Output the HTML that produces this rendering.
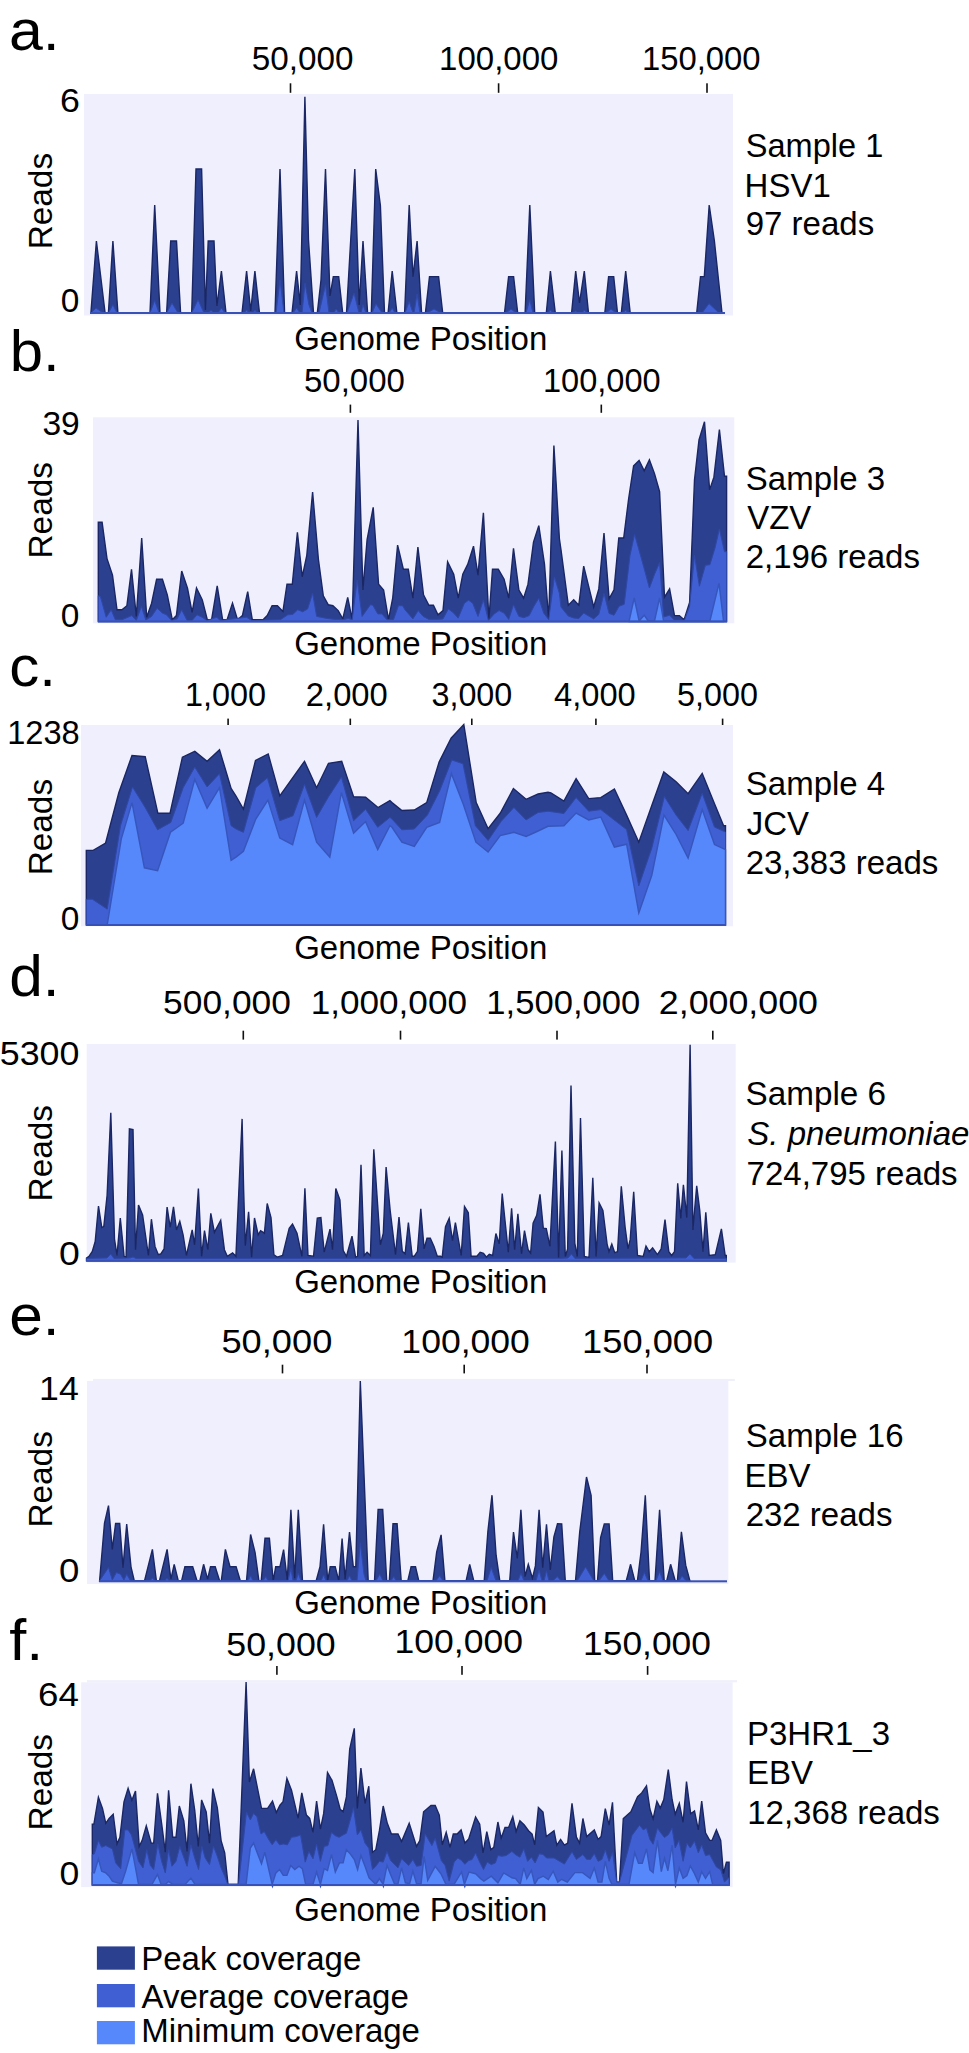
<!DOCTYPE html><html><head><meta charset="utf-8"><title>Coverage</title><style>html,body{margin:0;padding:0;background:#fff;width:969px;height:2053px;overflow:hidden}svg{display:block}text{font-family:"Liberation Sans",sans-serif;fill:#000}</style></head><body>
<svg width="969" height="2053" viewBox="0 0 969 2053">
<rect x="0" y="0" width="969" height="2053" fill="#fff"/>
<rect x="84.0" y="94.0" width="649.0" height="221.5" fill="#efeffd"/>
<path d="M90.9,313.0 L90.9,313.0 L96.4,241.0 L105.1,313.0 L108.4,313.0 L112.9,241.0 L117.9,313.0 L150.0,313.0 L154.7,205.0 L160.0,313.0 L166.6,313.0 L170.7,241.0 L176.5,241.0 L180.6,313.0 L191.7,313.0 L196.0,169.0 L201.6,169.0 L205.4,310.0 L208.2,241.0 L214.0,241.0 L216.9,306.0 L221.4,271.0 L226.0,313.0 L242.0,313.0 L246.6,271.0 L250.7,311.0 L254.9,271.0 L259.5,313.0 L275.0,313.0 L280.0,169.0 L284.6,313.0 L292.0,313.0 L296.6,271.0 L300.3,305.0 L304.9,96.8 L308.5,240.0 L313.5,313.0 L317.3,313.0 L321.0,280.0 L325.5,169.0 L330.0,296.0 L333.3,276.6 L338.7,276.6 L342.7,313.0 L346.5,313.0 L354.8,169.0 L359.2,305.0 L363.0,241.0 L367.6,313.0 L371.3,313.0 L375.7,169.0 L380.4,205.6 L384.5,313.0 L388.1,313.0 L392.2,271.0 L396.9,313.0 L404.6,313.0 L409.2,205.0 L413.0,276.6 L417.1,241.0 L421.6,313.0 L425.4,313.0 L429.5,276.6 L438.6,276.6 L442.7,313.0 L504.5,313.0 L508.6,276.6 L513.6,276.6 L517.7,313.0 L525.1,313.0 L529.8,205.0 L534.7,313.0 L546.3,313.0 L550.4,271.0 L555.3,313.0 L571.6,313.0 L575.7,271.0 L579.5,303.0 L584.3,271.0 L588.5,313.0 L604.8,313.0 L608.6,276.6 L613.7,276.6 L617.5,313.0 L621.3,313.0 L625.7,271.0 L630.2,313.0 L696.7,313.0 L700.5,276.6 L704.3,276.6 L709.2,205.0 L714.4,241.0 L722.0,313.0 L722.0,313.0 Z" fill="#2b4190" stroke="#1a2764" stroke-width="1.4"/>
<path d="M90.9,313.0 L90.9,313.0 L96.0,308.0 L103.0,313.0 L108.4,313.0 L112.9,304.7 L117.0,313.0 L150.0,313.0 L154.7,300.5 L159.0,313.0 L166.6,313.0 L172.0,303.0 L178.0,313.0 L191.7,313.0 L198.0,299.7 L204.0,313.0 L208.0,313.0 L211.0,310.4 L214.0,313.0 L218.0,313.0 L221.4,308.0 L225.0,313.0 L244.0,313.0 L246.6,310.0 L249.0,313.0 L253.0,313.0 L254.9,310.0 L257.0,313.0 L276.0,313.0 L280.0,280.0 L284.0,313.0 L293.0,313.0 L296.6,308.0 L300.0,313.0 L302.0,313.0 L305.0,283.0 L309.0,305.0 L312.0,313.0 L319.0,313.0 L325.5,284.8 L329.0,313.0 L334.0,313.0 L336.0,309.0 L339.0,313.0 L347.0,313.0 L354.0,293.0 L359.0,313.0 L361.0,313.0 L363.0,304.7 L366.0,313.0 L372.0,313.0 L376.0,303.8 L382.0,313.0 L389.0,313.0 L392.2,308.0 L395.0,313.0 L405.0,313.0 L409.2,301.4 L413.0,313.0 L414.0,313.0 L417.1,294.0 L420.0,313.0 L427.0,313.0 L434.0,309.0 L441.0,313.0 L506.0,313.0 L511.0,309.0 L516.0,313.0 L526.0,313.0 L529.8,299.7 L533.0,313.0 L548.0,313.0 L550.4,310.0 L553.0,313.0 L573.0,313.0 L575.7,311.0 L578.0,313.0 L582.0,313.0 L584.3,310.0 L587.0,313.0 L606.0,313.0 L611.0,309.0 L616.0,313.0 L623.0,313.0 L625.7,310.0 L628.0,313.0 L702.0,313.0 L709.0,303.6 L719.0,313.0 L719.0,313.0 Z" fill="#3f5fd2" stroke="#2f48a8" stroke-width="1"/>
<rect x="90.0" y="312.0" width="635.0" height="2" fill="#3751b6"/>
<rect x="289.7" y="83.3" width="1.6" height="9.5" fill="#111"/>
<rect x="497.8" y="83.3" width="1.6" height="9.5" fill="#111"/>
<rect x="706.2" y="83.3" width="1.6" height="9.5" fill="#111"/>
<rect x="93.0" y="417.3" width="641.3" height="206.0" fill="#efeffd"/>
<path d="M98.3,621.5 L98.3,621.0 L98.3,522.3 L102.1,522.3 L107.0,558.6 L112.5,575.1 L117.0,609.8 L121.9,609.8 L126.9,605.7 L131.5,569.3 L136.3,616.4 L141.7,538.0 L146.7,617.2 L151.6,603.2 L156.6,579.3 L162.4,579.3 L167.3,594.9 L172.3,619.7 L176.4,615.6 L181.7,571.0 L187.5,588.3 L192.1,612.3 L196.5,588.0 L202.3,599.9 L207.3,619.7 L211.6,619.7 L217.2,585.9 L222.6,619.7 L227.1,619.7 L232.5,603.2 L237.5,619.7 L242.4,615.6 L247.7,591.6 L251.0,612.0 L252.3,619.7 L263.0,619.7 L267.2,615.6 L272.1,605.7 L277.4,605.7 L282.9,611.5 L287.0,584.2 L292.3,584.2 L297.4,532.2 L302.2,576.8 L306.8,555.3 L312.6,492.1 L318.4,559.4 L323.3,595.8 L328.3,604.8 L332.9,605.7 L338.2,610.6 L342.8,618.9 L347.7,597.4 L352.2,619.7 L358.0,419.9 L362.9,590.0 L367.1,539.6 L373.2,507.4 L378.6,584.2 L383.6,590.0 L388.5,619.7 L392.7,598.2 L397.6,545.1 L403.4,569.3 L408.3,569.3 L412.9,598.2 L417.9,547.1 L423.5,594.9 L428.9,605.2 L433.4,605.2 L438.0,614.8 L443.0,610.6 L447.6,561.9 L453.7,574.3 L458.2,598.2 L462.8,574.3 L467.7,564.4 L473.5,546.2 L478.0,575.1 L483.4,512.7 L488.9,619.7 L492.5,569.3 L498.3,569.3 L504.1,579.2 L508.7,598.2 L513.5,548.4 L518.9,590.0 L523.6,598.2 L528.0,584.2 L533.5,542.1 L538.8,525.6 L544.5,564.4 L548.7,619.7 L553.9,445.5 L559.4,538.8 L561.0,549.8 L568.3,605.2 L573.7,599.8 L578.8,605.2 L583.7,566.2 L593.7,607.0 L598.8,588.9 L604.0,533.1 L609.1,598.9 L614.0,589.8 L618.8,538.0 L623.7,538.0 L628.6,499.0 L633.6,465.9 L639.1,460.5 L644.2,470.8 L649.4,459.9 L654.5,473.6 L659.6,491.7 L664.5,597.1 L669.6,588.9 L674.5,615.6 L679.4,615.6 L684.1,619.8 L689.6,602.5 L694.5,479.9 L699.0,440.0 L704.5,421.8 L709.6,489.9 L713.9,477.2 L719.4,429.6 L724.5,476.3 L726.6,476.3 L726.6,621.5 Z" fill="#2b4190" stroke="#1a2764" stroke-width="1.4"/>
<path d="M98.3,621.5 L98.3,595.8 L100.4,596.6 L106.2,617.2 L111.2,609.8 L115.3,619.7 L121.9,619.7 L126.0,618.1 L131.8,615.6 L136.3,620.5 L141.4,606.5 L145.8,620.0 L151.6,616.4 L157.1,608.2 L162.4,613.1 L166.5,614.8 L171.4,620.5 L177.2,618.9 L181.7,609.8 L187.1,620.5 L192.1,620.5 L197.0,614.8 L202.0,617.2 L206.9,620.5 L216.8,617.2 L220.1,620.5 L246.6,617.2 L251.5,620.5 L280.4,619.7 L287.8,614.8 L292.8,614.4 L297.7,609.8 L302.7,611.8 L307.6,609.0 L312.6,593.3 L316.7,616.4 L326.6,618.4 L334.9,619.4 L343.1,619.7 L348.1,618.4 L352.2,619.7 L357.2,580.1 L362.1,616.4 L370.4,604.8 L372.8,605.2 L377.8,613.9 L381.9,613.9 L386.9,619.7 L393.5,619.7 L398.4,605.7 L402.6,605.7 L405.0,609.8 L412.9,618.9 L418.2,610.6 L423.2,616.4 L428.9,619.4 L438.0,619.4 L443.0,618.9 L448.3,609.0 L452.9,612.3 L458.2,618.1 L464.4,603.2 L468.6,600.2 L472.7,603.2 L478.0,616.4 L483.4,599.9 L488.4,620.5 L494.2,613.9 L499.1,610.6 L504.1,613.1 L508.7,619.4 L513.5,604.8 L518.9,616.4 L523.9,617.7 L529.2,615.6 L533.8,606.5 L538.8,598.2 L543.7,613.1 L548.7,619.7 L554.4,576.8 L559.4,593.3 L561.0,607.0 L568.3,616.1 L573.7,618.0 L578.8,618.5 L583.7,613.1 L593.7,618.9 L598.8,614.3 L604.0,593.4 L609.1,613.4 L614.0,615.2 L619.1,606.2 L624.2,604.3 L630.0,555.3 L634.6,534.4 L640.0,553.5 L644.5,569.8 L649.4,588.0 L654.5,574.4 L659.6,562.6 L663.6,617.0 L669.6,615.2 L674.5,620.3 L684.5,620.3 L689.6,606.2 L694.5,555.3 L699.4,586.2 L705.4,565.3 L709.9,564.7 L715.0,548.0 L719.4,529.0 L724.5,551.7 L726.6,551.7 L726.6,621.5 Z" fill="#3f5fd2" stroke="#2f48a8" stroke-width="1"/>
<path d="M629.1,621.5 L629.1,621.0 L634.2,598.0 L639.1,621.0 L644.2,615.2 L648.2,621.0 L654.5,621.0 L659.6,598.0 L663.6,621.0 L709.9,621.0 L719.0,583.4 L723.5,621.0 L723.5,621.5 Z" fill="#5687fb" stroke="#3656bc" stroke-width="1.4"/>
<rect x="98.0" y="620.5" width="629.0" height="2" fill="#3751b6"/>
<rect x="349.6" y="404.6" width="1.6" height="8.2" fill="#111"/>
<rect x="600.5" y="404.6" width="1.6" height="8.2" fill="#111"/>
<rect x="81.0" y="725.0" width="652.0" height="201.3" fill="#efeffd"/>
<path d="M86.3,925.0 L86.3,850.4 L93.2,850.4 L105.6,843.0 L118.8,792.7 L132.0,755.5 L145.2,756.7 L157.9,813.3 L170.0,813.3 L182.4,757.2 L194.8,751.4 L207.1,761.3 L219.5,749.7 L231.1,788.5 L236.0,796.0 L243.4,809.2 L255.5,760.5 L268.2,753.9 L279.8,796.0 L292.1,778.6 L304.5,761.3 L316.6,787.7 L328.5,763.3 L341.7,761.3 L353.6,796.8 L365.6,797.3 L378.0,807.5 L389.9,800.6 L392.0,802.6 L401.9,810.5 L414.3,810.0 L426.7,802.6 L439.1,762.1 L451.1,738.2 L463.8,724.6 L476.2,802.6 L488.1,828.7 L500.2,813.3 L513.4,788.5 L526.1,799.3 L538.1,794.0 L548.0,792.2 L550.9,792.8 L563.9,801.1 L576.1,778.6 L588.7,798.6 L600.8,797.6 L614.4,788.9 L626.6,815.1 L638.8,842.2 L651.8,805.4 L663.8,772.0 L676.1,781.7 L688.1,793.7 L702.2,773.4 L714.5,803.8 L723.6,825.7 L725.5,825.7 L725.5,925.0 Z" fill="#2b4190" stroke="#1a2764" stroke-width="1.4"/>
<path d="M86.3,925.0 L86.3,899.2 L92.4,899.2 L107.2,909.1 L120.5,825.7 L132.5,786.9 L145.2,807.5 L157.6,829.8 L170.8,822.4 L183.2,787.7 L194.8,767.1 L207.1,786.9 L219.5,773.7 L231.1,825.7 L236.0,829.0 L243.4,832.3 L255.8,787.7 L267.4,777.8 L279.8,820.7 L293.0,815.8 L304.5,784.4 L316.6,817.4 L328.5,796.8 L341.4,777.0 L353.6,820.7 L365.6,809.2 L377.7,827.3 L389.9,817.4 L392.0,819.1 L401.9,829.8 L414.3,829.0 L427.5,814.9 L439.6,791.0 L451.8,760.0 L463.0,763.8 L475.4,825.7 L488.1,840.5 L501.0,821.6 L513.9,807.5 L526.1,819.9 L538.1,812.5 L548.0,811.2 L563.9,813.5 L576.1,797.6 L588.7,811.2 L600.8,809.6 L626.6,829.6 L638.8,885.9 L651.8,848.1 L664.4,796.6 L676.1,815.1 L688.1,830.6 L702.2,793.3 L714.5,827.1 L725.5,832.1 L725.5,925.0 Z" fill="#3f5fd2" stroke="#2f48a8" stroke-width="1"/>
<path d="M107.2,925.0 L107.2,925.0 L121.3,838.9 L132.0,802.6 L144.4,867.8 L157.6,870.6 L170.5,832.3 L183.2,823.2 L194.8,779.4 L207.1,808.3 L219.5,787.7 L231.1,860.4 L236.0,857.1 L243.4,851.3 L255.8,819.1 L267.9,800.1 L279.8,838.1 L292.6,844.7 L304.5,800.1 L316.6,842.2 L329.8,857.1 L341.4,792.7 L353.6,833.1 L365.6,821.6 L377.7,849.6 L389.9,825.7 L392.0,827.3 L401.9,842.2 L414.3,846.3 L426.7,827.3 L439.6,822.4 L451.4,773.7 L463.3,804.2 L475.9,842.2 L488.1,852.1 L500.2,835.6 L513.9,832.3 L526.1,836.4 L538.1,831.0 L548.0,826.3 L563.9,825.7 L576.1,813.1 L588.7,819.9 L600.8,817.0 L614.4,847.1 L626.6,844.2 L638.8,913.0 L651.8,875.2 L664.0,815.1 L676.1,834.5 L688.1,858.1 L702.2,809.6 L714.5,844.6 L725.5,849.6 L725.5,925.0 Z" fill="#5687fb" stroke="#3656bc" stroke-width="1.4"/>
<rect x="86.0" y="924.0" width="639.8" height="2" fill="#3751b6"/>
<rect x="227.3" y="718.6" width="1.6" height="6.4" fill="#111"/>
<rect x="349.5" y="718.6" width="1.6" height="6.4" fill="#111"/>
<rect x="471.0" y="718.6" width="1.6" height="6.4" fill="#111"/>
<rect x="595.1" y="718.6" width="1.6" height="6.4" fill="#111"/>
<rect x="721.8" y="718.6" width="1.6" height="6.4" fill="#111"/>
<rect x="86.7" y="1044.0" width="649.0" height="218.6" fill="#efeffd"/>
<path d="M86.5,1260.8 L86.5,1258.0 L89.0,1256.3 L92.3,1251.4 L95.2,1241.5 L98.5,1206.0 L101.8,1227.5 L103.8,1226.6 L107.1,1195.2 L110.8,1112.7 L114.5,1239.0 L117.0,1255.5 L120.3,1218.0 L124.1,1256.3 L126.1,1257.1 L129.4,1128.8 L133.0,1129.5 L135.5,1249.7 L138.5,1205.1 L142.6,1215.0 L148.4,1255.5 L151.4,1219.2 L155.0,1246.4 L158.3,1254.7 L160.8,1253.8 L164.1,1248.9 L167.1,1207.1 L170.2,1227.4 L173.5,1206.8 L176.5,1229.9 L179.8,1221.3 L183.1,1234.9 L186.4,1255.5 L192.2,1229.9 L194.6,1244.8 L198.4,1188.6 L201.6,1256.3 L204.5,1230.7 L207.8,1249.7 L210.8,1213.4 L214.4,1232.4 L220.7,1220.3 L224.4,1249.7 L227.3,1256.3 L232.6,1253.0 L235.9,1256.3 L242.1,1118.9 L243.6,1188.6 L245.3,1245.6 L248.6,1211.7 L251.6,1257.1 L254.5,1218.0 L258.2,1234.9 L260.6,1230.7 L264.4,1233.2 L267.2,1203.5 L271.0,1217.5 L273.9,1254.7 L277.2,1257.1 L282.6,1255.5 L289.2,1228.2 L292.5,1224.1 L297.0,1233.2 L301.9,1256.3 L304.9,1188.3 L308.0,1255.5 L313.5,1256.3 L317.3,1218.0 L320.9,1217.5 L324.2,1252.2 L330.0,1229.1 L332.5,1249.7 L335.8,1188.6 L339.9,1199.8 L343.2,1250.5 L346.5,1256.3 L352.0,1236.2 L355.6,1257.1 L357.6,1256.3 L361.0,1164.7 L364.2,1255.5 L367.1,1252.2 L370.4,1255.5 L373.8,1149.3 L380.4,1244.8 L383.3,1233.2 L386.1,1167.1 L390.3,1211.7 L395.5,1254.7 L399.0,1217.0 L402.3,1251.4 L405.1,1253.8 L408.4,1222.5 L412.2,1256.3 L414.2,1256.3 L417.5,1251.4 L420.8,1208.8 L424.1,1248.9 L427.0,1238.2 L430.3,1238.2 L434.0,1246.4 L437.3,1256.3 L440.6,1256.3 L442.2,1257.1 L445.5,1226.6 L449.2,1218.3 L452.5,1240.6 L455.4,1222.5 L461.2,1255.5 L464.5,1206.4 L468.3,1212.6 L471.1,1256.3 L476.9,1256.3 L480.2,1252.2 L483.5,1253.3 L486.5,1257.1 L489.3,1254.3 L492.6,1255.5 L495.9,1233.5 L499.2,1243.9 L502.2,1193.6 L508.3,1252.2 L511.6,1208.4 L514.6,1249.7 L517.9,1213.7 L521.5,1253.8 L524.5,1230.7 L528.1,1249.7 L530.6,1253.0 L533.1,1223.3 L536.7,1215.4 L540.0,1194.4 L543.3,1228.2 L546.3,1228.6 L549.9,1246.4 L555.4,1141.6 L558.6,1257.4 L561.9,1150.5 L565.3,1256.5 L567.6,1248.9 L571.0,1085.6 L574.8,1243.2 L577.3,1256.5 L580.5,1117.9 L584.3,1256.5 L589.0,1257.4 L592.8,1177.7 L596.1,1256.5 L599.1,1202.9 L602.9,1210.5 L607.1,1244.1 L609.0,1251.7 L611.8,1244.1 L614.7,1252.7 L617.5,1251.7 L621.3,1186.2 L625.1,1227.0 L628.0,1248.9 L630.2,1239.4 L633.7,1191.9 L637.5,1255.5 L643.2,1256.5 L646.0,1246.0 L649.2,1251.7 L652.6,1247.9 L657.4,1254.6 L661.2,1248.9 L665.0,1219.5 L668.8,1251.7 L671.6,1255.5 L674.5,1251.7 L677.7,1183.4 L680.8,1218.5 L683.4,1184.7 L686.8,1217.6 L690.1,1044.7 L692.9,1229.9 L696.7,1185.8 L699.7,1210.0 L703.0,1251.7 L705.8,1212.4 L709.2,1255.5 L715.3,1254.6 L721.4,1228.9 L725.2,1255.5 L726.3,1255.5 L726.3,1260.8 Z" fill="#2b4190" stroke="#1a2764" stroke-width="1.4"/>
<path d="M86.5,1260.8 L86.5,1258.5 L107.0,1258.0 L110.8,1254.0 L114.0,1258.5 L130.0,1258.0 L133.0,1257.0 L136.0,1258.5 L300.0,1258.5 L560.0,1258.5 L568.0,1258.0 L571.4,1254.0 L575.0,1258.5 L686.0,1258.0 L690.0,1254.0 L694.0,1258.5 L726.3,1258.5 L726.3,1260.8 Z" fill="#3f5fd2" stroke="#2f48a8" stroke-width="1"/>
<rect x="86.3" y="1259.8" width="640.5" height="2" fill="#3751b6"/>
<rect x="242.5" y="1030.7" width="1.6" height="8.9" fill="#111"/>
<rect x="399.7" y="1030.7" width="1.6" height="8.9" fill="#111"/>
<rect x="556.2" y="1030.7" width="1.6" height="8.9" fill="#111"/>
<rect x="712.0" y="1030.7" width="1.6" height="8.9" fill="#111"/>
<rect x="87.0" y="1380.9" width="641.4" height="203.1" fill="#efeffd"/>
<rect x="93.0" y="1378.9" width="641.8" height="2.0" fill="#efeffd"/>
<path d="M99.6,1581.3 L99.6,1580.8 L104.5,1523.0 L108.5,1505.6 L112.3,1549.4 L115.6,1523.5 L119.7,1523.5 L123.0,1567.6 L126.7,1524.1 L131.0,1566.8 L134.3,1580.8 L144.5,1580.8 L152.4,1549.4 L156.4,1580.8 L159.4,1580.8 L167.1,1549.4 L170.9,1579.1 L174.2,1564.3 L178.3,1580.8 L181.6,1580.8 L184.9,1566.8 L192.7,1566.8 L197.0,1580.8 L199.8,1580.8 L203.6,1564.3 L207.6,1579.1 L210.5,1566.8 L215.2,1566.8 L219.6,1580.8 L221.3,1580.8 L225.4,1549.4 L230.0,1566.8 L236.1,1566.8 L240.3,1580.8 L246.5,1580.8 L250.6,1534.5 L255.1,1552.7 L258.9,1580.8 L261.2,1580.8 L265.0,1538.2 L269.4,1538.2 L273.2,1580.8 L275.7,1566.8 L279.9,1566.8 L283.6,1549.7 L287.3,1580.0 L290.9,1509.8 L294.7,1578.3 L298.3,1509.8 L302.5,1580.8 L316.2,1580.8 L320.0,1566.8 L323.6,1524.3 L327.7,1580.8 L330.2,1566.8 L335.2,1566.8 L338.8,1580.8 L342.1,1538.6 L345.1,1579.1 L349.5,1532.0 L353.3,1566.8 L355.8,1566.8 L360.3,1381.0 L368.2,1580.8 L374.5,1580.8 L378.1,1509.4 L382.7,1509.4 L386.7,1580.8 L389.3,1580.8 L393.0,1523.8 L397.1,1523.8 L401.2,1580.8 L407.8,1580.8 L411.1,1566.8 L415.5,1566.8 L418.8,1580.8 L433.0,1580.8 L436.7,1551.9 L441.1,1534.9 L444.9,1580.8 L466.1,1580.8 L469.7,1564.3 L473.8,1580.8 L484.2,1580.8 L487.9,1531.2 L492.0,1495.2 L496.1,1555.2 L499.8,1580.8 L509.7,1580.8 L513.5,1532.0 L517.3,1558.5 L520.9,1509.8 L525.0,1576.6 L528.3,1564.3 L532.4,1578.3 L535.4,1565.9 L539.1,1509.8 L542.7,1567.6 L546.5,1524.3 L550.3,1570.0 L553.9,1537.0 L557.5,1523.8 L561.7,1523.9 L565.3,1580.8 L575.5,1580.8 L579.7,1532.1 L586.5,1477.0 L591.1,1495.4 L594.7,1580.8 L597.5,1580.8 L600.6,1537.6 L604.3,1523.9 L609.1,1523.9 L612.7,1580.8 L626.3,1580.8 L630.6,1564.3 L634.8,1580.8 L637.4,1580.8 L641.0,1552.3 L645.3,1495.4 L649.5,1580.8 L655.0,1580.8 L659.6,1509.7 L664.2,1580.8 L666.7,1580.8 L670.6,1564.3 L675.2,1580.8 L677.4,1580.8 L681.4,1531.8 L685.7,1565.2 L689.9,1580.8 L689.9,1581.3 Z" fill="#2b4190" stroke="#1a2764" stroke-width="1.4"/>
<path d="M99.6,1581.3 L99.6,1580.8 L108.5,1567.6 L112.3,1580.0 L116.4,1572.5 L120.5,1574.2 L123.9,1580.0 L126.7,1574.2 L130.5,1580.8 L150.0,1580.8 L152.4,1578.0 L155.0,1580.8 L165.0,1580.8 L167.0,1578.0 L169.0,1580.8 L248.0,1580.8 L250.6,1575.8 L253.0,1580.8 L263.0,1580.8 L265.8,1576.6 L268.0,1580.8 L288.0,1580.8 L290.9,1568.4 L293.0,1580.8 L296.0,1580.8 L298.3,1573.3 L301.0,1580.8 L321.0,1580.8 L323.6,1575.0 L326.0,1580.8 L347.0,1580.8 L349.5,1575.8 L352.0,1580.8 L357.0,1580.8 L360.3,1542.8 L364.0,1574.0 L366.0,1580.8 L376.0,1580.8 L379.8,1574.2 L383.0,1580.8 L391.0,1580.8 L393.8,1576.6 L396.0,1580.8 L436.0,1580.8 L439.6,1575.8 L443.0,1580.8 L487.0,1580.8 L491.2,1567.6 L496.0,1580.8 L518.0,1580.8 L520.9,1573.3 L524.0,1580.8 L536.0,1580.8 L539.1,1570.0 L542.0,1580.8 L544.0,1580.8 L546.5,1570.8 L549.0,1580.8 L553.0,1580.8 L557.2,1576.6 L561.0,1580.8 L577.3,1580.8 L585.6,1567.0 L593.8,1580.8 L599.0,1580.8 L604.3,1573.5 L609.0,1580.8 L641.0,1580.8 L644.3,1572.6 L648.0,1580.8 L656.0,1580.8 L659.6,1571.6 L663.0,1580.8 L679.0,1580.8 L682.0,1576.0 L686.0,1580.8 L686.0,1581.3 Z" fill="#3f5fd2" stroke="#2f48a8" stroke-width="1"/>
<rect x="99.2" y="1580.3" width="627.8" height="2" fill="#3751b6"/>
<rect x="281.7" y="1364.7" width="1.6" height="8.7" fill="#111"/>
<rect x="463.4" y="1364.7" width="1.6" height="8.7" fill="#111"/>
<rect x="646.2" y="1364.7" width="1.6" height="8.7" fill="#111"/>
<rect x="81.2" y="1682.3" width="651.4" height="204.8" fill="#efeffd"/>
<rect x="87.0" y="1680.2" width="650.0" height="2.1" fill="#efeffd"/>
<path d="M92.3,1885.0 L92.3,1824.1 L93.9,1824.1 L98.4,1797.2 L102.5,1808.4 L105.8,1823.3 L109.1,1818.4 L113.2,1814.2 L117.0,1844.0 L119.9,1837.3 L124.0,1801.8 L128.1,1788.3 L131.9,1800.2 L135.5,1791.1 L139.2,1846.4 L142.1,1840.6 L146.3,1825.8 L151.2,1843.1 L153.7,1843.1 L157.5,1793.3 L161.6,1823.3 L165.3,1852.2 L168.6,1790.3 L172.7,1837.3 L176.0,1837.3 L179.3,1806.0 L183.8,1820.8 L187.1,1851.4 L190.9,1783.7 L194.7,1810.1 L198.3,1846.4 L201.6,1799.9 L206.2,1811.8 L209.5,1843.1 L212.8,1788.6 L217.3,1807.6 L221.1,1840.6 L224.7,1853.0 L228.0,1884.4 L238.2,1884.4 L246.1,1682.0 L249.4,1782.0 L253.6,1768.8 L261.5,1808.4 L267.6,1808.4 L272.5,1801.0 L276.3,1812.6 L280.0,1805.1 L283.0,1801.8 L286.9,1778.4 L291.5,1790.3 L298.1,1818.4 L301.8,1792.8 L306.4,1815.1 L309.7,1818.4 L313.0,1832.4 L316.6,1801.0 L320.4,1829.1 L323.7,1813.4 L327.5,1772.5 L332.0,1780.4 L336.9,1796.9 L340.2,1809.3 L343.1,1811.8 L346.4,1796.9 L349.7,1749.0 L354.3,1728.4 L357.3,1808.4 L360.9,1768.0 L365.0,1803.5 L368.8,1786.2 L372.5,1852.2 L375.8,1849.7 L379.4,1830.7 L383.2,1806.0 L387.3,1823.3 L391.4,1834.0 L398.0,1834.0 L401.6,1841.5 L409.2,1823.3 L416.5,1846.4 L419.8,1840.6 L423.6,1811.8 L431.0,1805.5 L435.2,1805.5 L439.3,1815.1 L442.3,1844.8 L446.2,1832.4 L450.0,1847.3 L453.3,1834.0 L457.1,1834.0 L461.1,1829.9 L464.9,1843.1 L468.7,1839.0 L475.6,1817.0 L479.7,1824.1 L483.0,1853.0 L486.8,1831.6 L490.8,1849.7 L493.8,1847.3 L497.9,1822.0 L501.2,1838.2 L505.0,1827.4 L508.6,1827.4 L512.8,1816.7 L516.1,1831.6 L519.9,1820.8 L524.3,1825.0 L528.5,1830.7 L532.1,1834.0 L534.7,1844.8 L538.4,1807.6 L543.0,1812.1 L546.3,1836.5 L554.0,1830.7 L556.8,1845.1 L560.6,1839.4 L564.4,1845.1 L567.7,1843.2 L572.0,1803.3 L576.4,1837.1 L579.6,1843.2 L582.9,1818.5 L586.7,1836.6 L594.3,1829.9 L598.1,1839.4 L601.1,1836.6 L605.3,1808.6 L609.1,1825.2 L612.5,1802.4 L616.7,1882.1 L619.5,1882.1 L623.3,1818.5 L630.9,1811.9 L637.6,1796.7 L641.7,1792.9 L646.5,1785.9 L649.9,1809.0 L653.1,1818.9 L656.9,1801.4 L660.3,1808.1 L663.8,1799.5 L668.3,1769.5 L672.1,1799.5 L675.2,1814.3 L679.3,1803.3 L683.1,1822.3 L686.5,1781.5 L690.7,1813.8 L694.5,1810.9 L698.3,1829.9 L701.7,1801.0 L705.5,1832.8 L709.7,1840.4 L712.0,1840.4 L716.4,1829.9 L720.7,1840.4 L723.4,1873.6 L726.4,1862.2 L729.1,1862.2 L729.1,1885.0 Z" fill="#2b4190" stroke="#1a2764" stroke-width="1.4"/>
<path d="M92.3,1885.0 L92.3,1854.7 L94.3,1853.9 L98.4,1840.6 L101.7,1847.3 L105.8,1845.6 L112.4,1848.9 L115.7,1862.9 L120.7,1868.7 L124.8,1829.9 L128.1,1829.9 L131.4,1834.9 L135.5,1849.7 L138.5,1861.3 L143.0,1867.9 L146.8,1849.7 L150.4,1865.5 L153.7,1869.6 L157.8,1843.9 L161.6,1861.3 L165.3,1872.9 L168.6,1849.7 L171.9,1866.3 L176.0,1861.3 L179.8,1846.4 L183.4,1856.3 L187.1,1866.3 L190.9,1844.8 L194.7,1858.0 L198.6,1869.6 L201.9,1846.4 L205.2,1858.0 L209.5,1864.6 L213.5,1846.4 L217.3,1856.3 L221.1,1867.9 L224.7,1876.2 L227.7,1884.4 L238.5,1884.4 L246.5,1812.0 L250.3,1820.0 L253.6,1813.4 L256.9,1816.7 L261.0,1834.0 L264.3,1831.6 L268.4,1839.0 L272.2,1844.8 L275.9,1839.8 L279.6,1844.8 L283.3,1844.0 L287.4,1844.8 L291.5,1837.3 L296.5,1836.5 L300.6,1834.9 L305.2,1862.1 L308.9,1851.4 L313.0,1858.8 L316.6,1844.0 L320.4,1861.3 L324.2,1846.4 L327.9,1845.6 L331.5,1832.4 L335.3,1835.7 L339.1,1837.3 L343.1,1834.9 L346.4,1833.2 L350.2,1820.0 L353.5,1807.6 L357.3,1834.9 L360.9,1829.9 L365.0,1843.1 L368.8,1848.1 L372.5,1869.6 L375.8,1866.3 L379.4,1861.3 L383.2,1862.1 L387.0,1851.4 L390.6,1860.5 L398.0,1867.9 L401.6,1858.8 L408.7,1865.4 L412.9,1859.6 L416.5,1866.3 L421.1,1865.4 L425.2,1834.0 L431.9,1845.6 L435.2,1838.2 L441.3,1860.5 L445.1,1865.4 L449.2,1881.1 L454.1,1862.1 L457.8,1858.0 L461.6,1860.5 L464.9,1864.3 L468.7,1860.5 L472.0,1859.6 L475.6,1853.0 L479.7,1862.1 L483.5,1869.6 L487.2,1862.1 L491.3,1864.6 L495.4,1862.9 L497.9,1855.5 L502.0,1856.3 L506.2,1855.5 L511.9,1851.4 L515.6,1854.7 L519.9,1857.2 L523.8,1848.9 L527.6,1861.3 L531.4,1857.2 L535.1,1862.9 L539.2,1853.9 L543.0,1854.4 L546.6,1858.0 L554.0,1858.0 L564.4,1864.1 L572.0,1851.8 L576.4,1859.4 L582.9,1854.6 L586.7,1859.4 L590.5,1859.4 L594.3,1853.7 L598.1,1861.3 L601.9,1859.4 L605.3,1849.9 L609.1,1861.3 L612.5,1852.7 L616.7,1882.1 L619.5,1882.1 L623.3,1867.9 L631.9,1835.6 L639.5,1825.2 L643.3,1829.9 L646.5,1828.0 L649.9,1839.4 L653.1,1844.2 L657.5,1828.0 L660.7,1832.8 L664.5,1837.5 L668.3,1834.7 L672.1,1828.0 L675.2,1848.0 L679.0,1840.4 L683.1,1861.3 L686.9,1843.2 L690.3,1848.0 L694.5,1841.3 L698.3,1852.7 L701.7,1845.1 L705.5,1855.6 L709.7,1854.6 L716.4,1867.0 L720.7,1869.8 L724.5,1882.1 L729.1,1877.4 L729.1,1885.0 Z" fill="#3f5fd2" stroke="#2f48a8" stroke-width="1"/>
<path d="M92.3,1885.0 L92.3,1872.9 L94.3,1872.9 L98.4,1858.8 L101.7,1871.2 L105.8,1872.9 L109.1,1876.2 L112.4,1881.1 L117.4,1882.8 L121.5,1883.6 L125.6,1871.2 L131.9,1848.9 L135.5,1867.9 L138.5,1884.4 L152.0,1884.4 L157.5,1874.5 L161.1,1884.4 L165.3,1884.4 L168.6,1881.4 L172.7,1884.4 L185.1,1884.4 L190.9,1878.1 L195.0,1884.4 L246.1,1884.4 L250.3,1848.1 L253.6,1843.1 L257.7,1853.9 L261.5,1863.8 L264.8,1852.2 L268.4,1867.9 L272.2,1884.4 L275.9,1872.9 L279.6,1869.6 L283.3,1875.4 L286.9,1875.4 L290.7,1865.4 L294.8,1869.6 L299.0,1866.3 L302.3,1868.7 L305.6,1884.4 L313.0,1884.4 L316.6,1872.0 L320.4,1884.4 L324.2,1868.7 L327.5,1870.4 L331.5,1854.7 L335.3,1872.0 L339.4,1862.9 L343.1,1862.9 L346.4,1849.7 L350.2,1853.9 L354.3,1859.6 L357.6,1869.6 L360.9,1855.5 L365.0,1866.3 L369.1,1877.8 L375.8,1884.4 L379.4,1878.6 L383.2,1884.4 L387.0,1865.4 L390.6,1874.5 L394.7,1884.4 L398.0,1883.6 L401.6,1867.9 L405.4,1882.8 L409.6,1883.6 L412.9,1871.2 L416.5,1883.6 L421.1,1883.6 L424.1,1856.3 L427.7,1880.3 L435.2,1866.3 L440.9,1873.7 L445.9,1884.4 L454.1,1884.4 L461.6,1872.0 L464.4,1884.4 L469.0,1872.0 L475.6,1873.7 L480.6,1878.6 L483.9,1881.1 L491.3,1876.2 L497.9,1882.8 L503.7,1872.9 L511.9,1877.8 L515.6,1878.6 L520.2,1884.4 L523.8,1867.9 L526.8,1878.6 L531.4,1870.4 L534.7,1884.4 L538.0,1878.6 L543.3,1876.2 L548.3,1879.5 L553.2,1871.2 L557.8,1882.1 L561.6,1879.3 L567.3,1882.1 L574.9,1872.6 L582.5,1872.6 L590.1,1878.3 L594.3,1867.9 L598.1,1882.1 L601.9,1882.1 L605.3,1861.3 L609.1,1878.3 L611.9,1884.4 L629.0,1884.4 L634.7,1852.7 L638.5,1863.2 L642.3,1863.2 L646.5,1848.9 L649.9,1869.8 L653.1,1872.6 L657.5,1840.4 L661.3,1871.7 L664.5,1858.4 L667.9,1870.7 L672.1,1845.1 L675.5,1884.4 L679.3,1867.9 L683.1,1878.3 L686.9,1875.5 L690.3,1866.0 L694.5,1873.6 L698.3,1882.1 L701.7,1871.7 L705.5,1878.3 L709.7,1871.7 L712.6,1884.4 L712.6,1885.0 Z" fill="#5687fb" stroke="#3656bc" stroke-width="1.4"/>
<rect x="92.2" y="1884.0" width="637.6" height="2" fill="#3751b6"/>
<rect x="276.1" y="1666.0" width="1.6" height="8.8" fill="#111"/>
<rect x="461.2" y="1666.0" width="1.6" height="8.8" fill="#111"/>
<rect x="646.8" y="1666.0" width="1.6" height="8.8" fill="#111"/>
<path d="M271.3,1885 L273.7,1885 L272.5,1888.6 Z" fill="#3656bc"/>
<path d="M319.3,1885 L321.7,1885 L320.5,1888.6 Z" fill="#3656bc"/>
<path d="M382.2,1885 L384.6,1885 L383.4,1888.6 Z" fill="#3656bc"/>
<path d="M463.6,1885 L466.0,1885 L464.8,1888.6 Z" fill="#3656bc"/>
<path d="M674.3,1885 L676.7,1885 L675.5,1888.6 Z" fill="#3656bc"/>
<rect x="96.9" y="1946.4" width="38" height="23.3" fill="#2b4190"/>
<rect x="96.9" y="1984.0" width="38" height="23.3" fill="#3f5fd2"/>
<rect x="96.9" y="2021.0" width="38" height="23.3" fill="#5687fb"/>
<text x="9.02" y="50.40" font-size="57.5" textLength="50.74" lengthAdjust="spacingAndGlyphs">a.</text>
<text x="9.74" y="370.90" font-size="57.5" textLength="49.92" lengthAdjust="spacingAndGlyphs">b.</text>
<text x="9.25" y="686.40" font-size="57.5" textLength="46.74" lengthAdjust="spacingAndGlyphs">c.</text>
<text x="9.26" y="995.80" font-size="57.5" textLength="50.35" lengthAdjust="spacingAndGlyphs">d.</text>
<text x="9.23" y="1334.80" font-size="57.5" textLength="50.38" lengthAdjust="spacingAndGlyphs">e.</text>
<text x="9.33" y="1659.80" font-size="57.5" textLength="34.07" lengthAdjust="spacingAndGlyphs">f.</text>
<text x="251.67" y="70.10" font-size="33" textLength="101.73" lengthAdjust="spacingAndGlyphs">50,000</text>
<text x="439.09" y="70.10" font-size="33">100,000</text>
<text x="642.00" y="70.10" font-size="33" textLength="118.58" lengthAdjust="spacingAndGlyphs">150,000</text>
<text x="303.98" y="392.20" font-size="33">50,000</text>
<text x="543.02" y="392.20" font-size="33" textLength="117.65" lengthAdjust="spacingAndGlyphs">100,000</text>
<text x="184.93" y="705.60" font-size="33" textLength="81.14" lengthAdjust="spacingAndGlyphs">1,000</text>
<text x="305.85" y="705.60" font-size="33" textLength="81.93" lengthAdjust="spacingAndGlyphs">2,000</text>
<text x="431.47" y="705.60" font-size="33" textLength="80.79" lengthAdjust="spacingAndGlyphs">3,000</text>
<text x="554.05" y="705.60" font-size="33" textLength="81.73" lengthAdjust="spacingAndGlyphs">4,000</text>
<text x="677.01" y="705.60" font-size="33" textLength="80.86" lengthAdjust="spacingAndGlyphs">5,000</text>
<text x="163.08" y="1013.80" font-size="33" textLength="127.80" lengthAdjust="spacingAndGlyphs">500,000</text>
<text x="310.72" y="1013.80" font-size="33" textLength="156.25" lengthAdjust="spacingAndGlyphs">1,000,000</text>
<text x="486.37" y="1013.80" font-size="33" textLength="153.89" lengthAdjust="spacingAndGlyphs">1,500,000</text>
<text x="658.80" y="1013.80" font-size="33" textLength="159.20" lengthAdjust="spacingAndGlyphs">2,000,000</text>
<text x="221.45" y="1353.20" font-size="33" textLength="110.87" lengthAdjust="spacingAndGlyphs">50,000</text>
<text x="401.39" y="1353.20" font-size="33" textLength="128.50" lengthAdjust="spacingAndGlyphs">100,000</text>
<text x="582.14" y="1353.20" font-size="33" textLength="131.08" lengthAdjust="spacingAndGlyphs">150,000</text>
<text x="226.27" y="1656.00" font-size="33" textLength="109.43" lengthAdjust="spacingAndGlyphs">50,000</text>
<text x="394.59" y="1653.00" font-size="33" textLength="128.39" lengthAdjust="spacingAndGlyphs">100,000</text>
<text x="583.11" y="1655.20" font-size="33" textLength="127.77" lengthAdjust="spacingAndGlyphs">150,000</text>
<text x="60.08" y="112.20" font-size="33" textLength="19.89" lengthAdjust="spacingAndGlyphs">6</text>
<text x="60.69" y="311.70" font-size="33" textLength="18.61" lengthAdjust="spacingAndGlyphs">0</text>
<text x="42.42" y="435.20" font-size="33" textLength="37.37" lengthAdjust="spacingAndGlyphs">39</text>
<text x="60.69" y="626.70" font-size="33" textLength="18.61" lengthAdjust="spacingAndGlyphs">0</text>
<text x="7.22" y="743.70" font-size="33" textLength="72.50" lengthAdjust="spacingAndGlyphs">1238</text>
<text x="60.69" y="929.70" font-size="33" textLength="18.61" lengthAdjust="spacingAndGlyphs">0</text>
<text x="-0.23" y="1065.00" font-size="33" textLength="79.63" lengthAdjust="spacingAndGlyphs">5300</text>
<text x="59.04" y="1264.70" font-size="33" textLength="20.83" lengthAdjust="spacingAndGlyphs">0</text>
<text x="39.08" y="1400.00" font-size="33" textLength="39.66" lengthAdjust="spacingAndGlyphs">14</text>
<text x="59.07" y="1581.90" font-size="33" textLength="20.36" lengthAdjust="spacingAndGlyphs">0</text>
<text x="38.04" y="1706.00" font-size="33" textLength="40.84" lengthAdjust="spacingAndGlyphs">64</text>
<text x="59.61" y="1885.00" font-size="33" textLength="19.78" lengthAdjust="spacingAndGlyphs">0</text>
<text transform="translate(51.90,249.34) rotate(-90)" x="0" y="0" font-size="33" textLength="96.44" lengthAdjust="spacingAndGlyphs">Reads</text>
<text transform="translate(51.90,558.49) rotate(-90)" x="0" y="0" font-size="33" textLength="96.44" lengthAdjust="spacingAndGlyphs">Reads</text>
<text transform="translate(51.90,875.34) rotate(-90)" x="0" y="0" font-size="33" textLength="96.44" lengthAdjust="spacingAndGlyphs">Reads</text>
<text transform="translate(51.90,1201.44) rotate(-90)" x="0" y="0" font-size="33" textLength="96.44" lengthAdjust="spacingAndGlyphs">Reads</text>
<text transform="translate(51.90,1527.59) rotate(-90)" x="0" y="0" font-size="33" textLength="96.44" lengthAdjust="spacingAndGlyphs">Reads</text>
<text transform="translate(51.90,1830.39) rotate(-90)" x="0" y="0" font-size="33" textLength="96.44" lengthAdjust="spacingAndGlyphs">Reads</text>
<text x="294.14" y="349.80" font-size="33">Genome Position</text>
<text x="294.14" y="654.80" font-size="33">Genome Position</text>
<text x="294.14" y="959.20" font-size="33">Genome Position</text>
<text x="294.14" y="1293.20" font-size="33">Genome Position</text>
<text x="294.14" y="1614.20" font-size="33">Genome Position</text>
<text x="294.14" y="1920.80" font-size="33">Genome Position</text>
<text x="745.82" y="156.50" font-size="33" textLength="137.47" lengthAdjust="spacingAndGlyphs">Sample 1</text>
<text x="744.59" y="196.50" font-size="33">HSV1</text>
<text x="745.75" y="235.40" font-size="33">97 reads</text>
<text x="745.80" y="489.50" font-size="33">Sample 3</text>
<text x="747.15" y="529.40" font-size="33">VZV</text>
<text x="745.64" y="568.40" font-size="33">2,196 reads</text>
<text x="745.80" y="794.50" font-size="33">Sample 4</text>
<text x="746.78" y="834.50" font-size="33">JCV</text>
<text x="745.64" y="874.20" font-size="33">23,383 reads</text>
<text x="745.59" y="1105.30" font-size="33" textLength="140.47" lengthAdjust="spacingAndGlyphs">Sample 6</text>
<text x="747.37" y="1144.70" font-size="33" font-style="italic">S. pneumoniae</text>
<text x="746.61" y="1184.70" font-size="33">724,795 reads</text>
<text x="745.80" y="1447.00" font-size="33">Sample 16</text>
<text x="744.59" y="1487.00" font-size="33">EBV</text>
<text x="745.64" y="1525.90" font-size="33">232 reads</text>
<text x="746.99" y="1745.30" font-size="33">P3HR1_3</text>
<text x="746.99" y="1784.00" font-size="33">EBV</text>
<text x="747.19" y="1824.00" font-size="33">12,368 reads</text>
<text x="141.19" y="1970.00" font-size="33">Peak coverage</text>
<text x="141.54" y="2007.60" font-size="33">Average coverage</text>
<text x="141.19" y="2041.70" font-size="33">Minimum coverage</text>
</svg></body></html>
